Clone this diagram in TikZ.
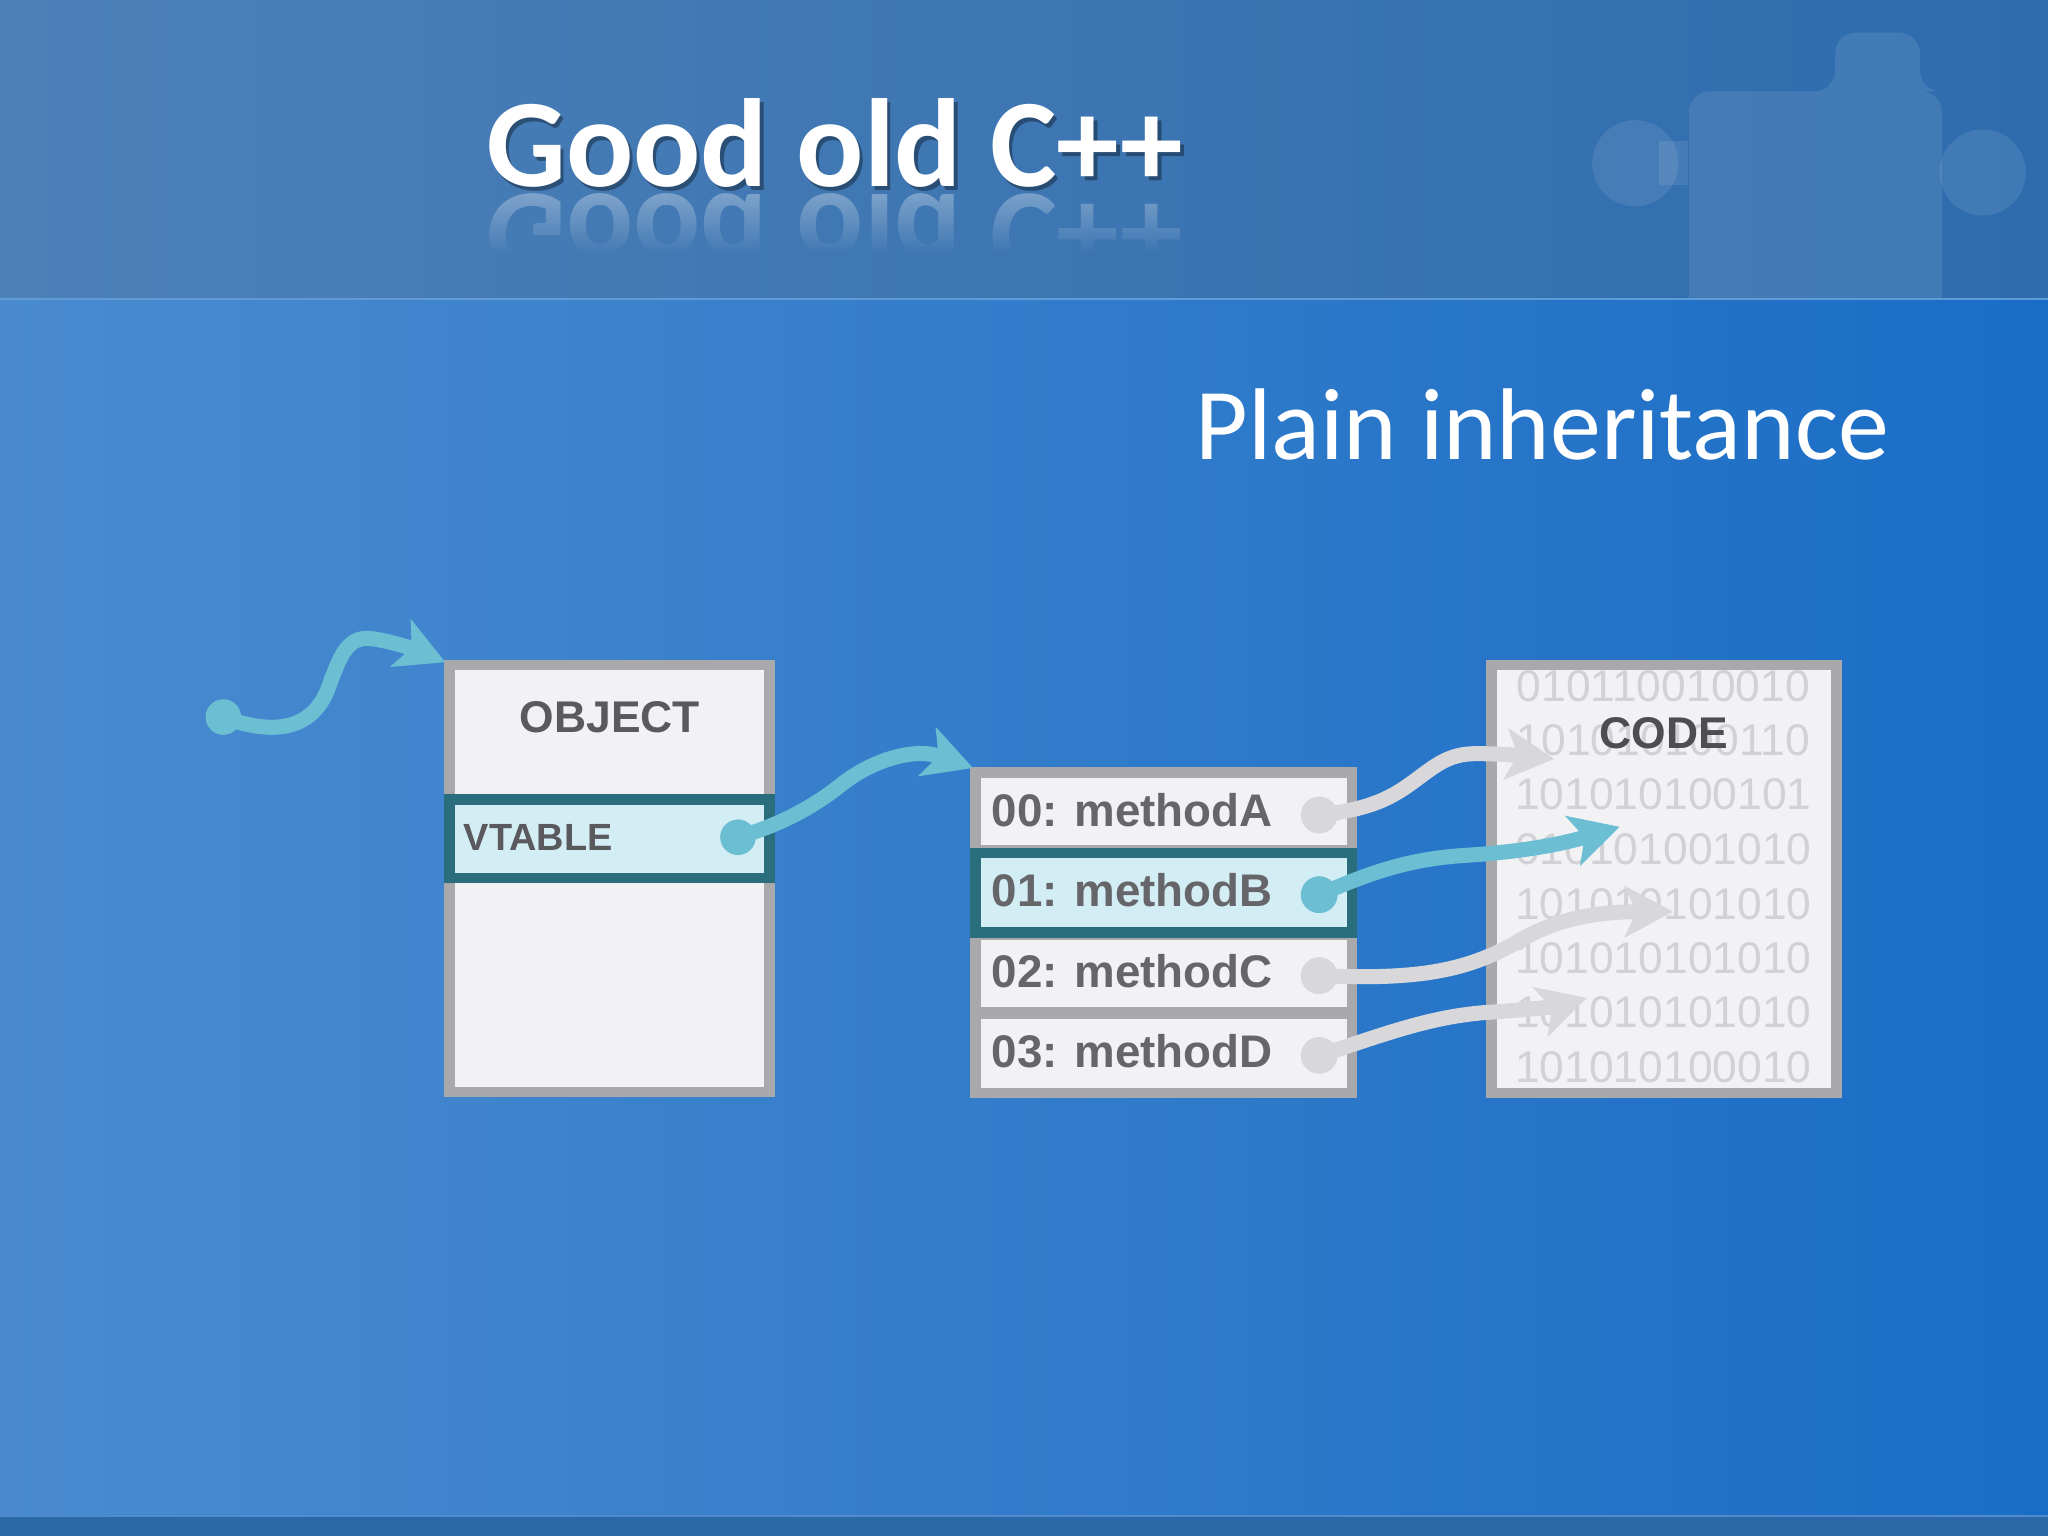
\documentclass[tikz,border=0pt]{standalone}
\usepackage{fontspec}
\usepackage{graphicx}
\setmainfont{Carlito}
\newfontfamily\arialf{Liberation Sans}
\usetikzlibrary{arrows.meta,fadings}
\definecolor{hdrL}{HTML}{4D80B7}
\definecolor{hdrR}{HTML}{2E6CAE}
\definecolor{bodyL}{HTML}{4A8BCF}
\definecolor{bodyR}{HTML}{1A6DC6}
\definecolor{footc}{HTML}{2A68A8}
\definecolor{sepc}{HTML}{5F9BD7}
\definecolor{footl}{HTML}{508CCD}
\definecolor{boxgray}{HTML}{A9A9AB}
\definecolor{boxfill}{HTML}{F2F2F4}
\definecolor{txtgray}{HTML}{59595E}
\definecolor{codetxt}{HTML}{4E4E52}
\definecolor{mtxt}{HTML}{66666A}
\definecolor{tealb}{HTML}{2A6E7D}
\definecolor{cyanfill}{HTML}{D3EDF4}
\definecolor{conn}{HTML}{6CBFD3}
\definecolor{lgray}{HTML}{D8D8DA}
\definecolor{bin}{HTML}{D2D2D6}
\tikzset{
  boxnode/.style={draw=boxgray, fill=boxfill, line width=8pt, inner sep=0pt, rectangle},
  rownode/.style={fill=boxfill, inner sep=0pt, rectangle, minimum width=280pt},
  tealrow/.style={draw=tealb, fill=cyanfill, line width=8pt, inner sep=0pt, rectangle},
  lbl/.style={font=\arialf\bfseries\fontsize{34}{36}\selectfont, text=txtgray, inner sep=0pt},
  mlbl/.style={font=\arialf\bfseries\fontsize{35}{37}\selectfont, text=mtxt, inner sep=0pt, anchor=base west},
  binlbl/.style={font=\arialf\fontsize{34}{36}\selectfont, text=bin, inner sep=0pt, anchor=base},
  dotc/.style={circle, fill=conn, minimum size=27pt, inner sep=0pt},
  dotg/.style={circle, fill=lgray, minimum size=28pt, inner sep=0pt},
  tconn/.style={draw=conn, line width=11.5pt, -{Stealth[length=37pt,width=39pt,inset=9pt]}},
  gconn/.style={draw=lgray, line width=11.5pt, -{Stealth[length=37pt,width=39pt,inset=9pt]}},
}
\begin{document}
\begin{tikzpicture}[x=1pt,y=-1pt]
\useasboundingbox (0,0) rectangle (1568,1176);
% background
\shade[left color=hdrL, right color=hdrR] (0,0) rectangle (1568,229);
\shade[left color=bodyL, right color=bodyR] (0,229) rectangle (1568,1161);
\fill[footc] (0,1161) rectangle (1568,1176);
\draw[sepc, line width=2pt] (0,229) -- (1568,229);
\draw[footl, line width=1.5pt] (0,1161) -- (1568,1161);
% faint puzzle piece in header
\begin{scope}
\clip (0,0) rectangle (1568,228);
\fill[white, opacity=0.09, rounded corners=16pt]
  (1293,70) -- (1405,70) -- (1405,25) -- (1470,25) -- (1470,70) -- (1487,70) -- (1487,250) -- (1293,250) -- cycle;
\fill[white, opacity=0.09] (1252,125) circle (33);
\fill[white, opacity=0.09] (1270,108) rectangle (1292,142);
\fill[white, opacity=0.09] (1518,132) circle (33);
\end{scope}
% title with reflection and shadow
\begin{scope}
\clip (300,146) rectangle (1000,192);
\node[inner sep=0pt, anchor=north west, text=white, opacity=0.3,
      font=\bfseries\fontsize{96}{100}\selectfont] (titlerefl) at (372,148) {\scalebox{1}[-1]{Good old C++}};
\end{scope}
\shade[left color=hdrL!77!hdrR, right color=hdrL!41!hdrR, path fading=north] (360,150) rectangle (930,194);
\node[inner sep=0pt, anchor=base west, text=black, opacity=0.35,
      font=\bfseries\fontsize{96}{100}\selectfont] (titleshadow) at (374.5,145.5) {Good old C++};
\node[inner sep=0pt, anchor=base west, text=white,
      font=\bfseries\fontsize{96}{100}\selectfont] (title) at (372,143) {Good old C++};
\node[inner sep=0pt, anchor=base west, text=white,
      font=\fontsize{78}{84}\selectfont] (subtitle) at (915,352) {Plain inheritance};
% OBJECT box
\node[boxnode, minimum width=245pt, minimum height=327pt] (obj) at (466.5,672.5) {};
\node[lbl, anchor=base] (objlbl) at (467,561) {OBJECT};
\node[tealrow, minimum width=245pt, minimum height=60pt] (vt) at (466.5,642) {};
\node[lbl, anchor=base west, font=\arialf\bfseries\fontsize{29}{31}\selectfont] (vtlbl) at (355,651) {VTABLE};
% VTABLE box
\node[boxnode, fill=boxgray, minimum width=288pt, minimum height=246pt] (vtab) at (891,714) {};
\node[rownode, minimum height=51pt] (ra) at (891,621.5) {};
\node[tealrow, minimum width=288pt, minimum height=61pt] (rb) at (891,683.5) {};
\node[rownode, minimum height=51pt] (rc) at (891,745.5) {};
\node[rownode, minimum height=53pt] (rd) at (891,806.5) {};
\node[mlbl] (la) at (759,632.5) {00: methodA};
\node[mlbl] (lb) at (759,694) {01: methodB};
\node[mlbl] (lc) at (759,756) {02: methodC};
\node[mlbl] (ld) at (759,817) {03: methodD};
% CODE box
\node[boxnode, minimum width=264pt, minimum height=328pt] (code) at (1274,673) {};
\node[binlbl] (b1) at (1273.5,537) {010110010010};
\node[binlbl] (b2) at (1273.5,578.6) {101010100110};
\node[binlbl] (b3) at (1273.5,620) {101010100101};
\node[binlbl] (b4) at (1273.5,662) {010101001010};
\node[binlbl] (b5) at (1273.5,704) {101010101010};
\node[binlbl] (b6) at (1273.5,745) {101010101010};
\node[binlbl] (b7) at (1273.5,787) {101010101010};
\node[binlbl] (b8) at (1273.5,829) {101010100010};
\node[lbl, anchor=base, text=codetxt] (codelbl) at (1274,573) {CODE};
% dots
\node[dotc] (src) at (171,549) {};
\node[dotc] (vtdot) at (565,641) {};
\node[dotg] (da) at (1010,624) {};
\node[dotc, minimum size=28pt] (db) at (1010,685) {};
\node[dotg] (dc) at (1010,747) {};
\node[dotg] (dd) at (1010,808) {};
% free ends
\coordinate (tO) at (341,507);
\coordinate (tV) at (745,588);
\coordinate (tA) at (1190,581);
\coordinate (tB) at (1240,633);
\coordinate (tC) at (1281,698);
\coordinate (tD) at (1215,764);
% connectors
\draw[tconn] (src.center) .. controls (200,560) and (238,565) .. (252,525)
   .. controls (262,497) and (268,487) .. (285,489)
   .. controls (300,491) and (320,498) .. (tO);
\draw[tconn] (vtdot.center) .. controls (595,632) and (620,620) .. (645,600)
   .. controls (668,582) and (700,572) .. (tV);
\draw[gconn] (da.center) .. controls (1045,620) and (1062,613) .. (1080,600)
   .. controls (1098,587) and (1108,577) .. (1130,577)
   .. controls (1150,577) and (1170,579) .. (tA);
\draw[tconn] (db.center) .. controls (1045,670) and (1075,658) .. (1120,655)
   .. controls (1170,652) and (1200,645) .. (tB);
\draw[gconn] (dc.center) .. controls (1080,750) and (1120,745) .. (1160,722)
   .. controls (1190,704) and (1220,698) .. (tC);
\draw[gconn] (dd.center) .. controls (1060,792) and (1095,778) .. (1140,775)
   .. controls (1170,773) and (1195,770) .. (tD);
% redraw dots on top
\node[dotc] at (src) {};
\node[dotc] at (vtdot) {};
\node[dotg] at (da) {};
\node[dotc, minimum size=28pt] at (db) {};
\node[dotg] at (dc) {};
\node[dotg] at (dd) {};
\end{tikzpicture}
\end{document}
